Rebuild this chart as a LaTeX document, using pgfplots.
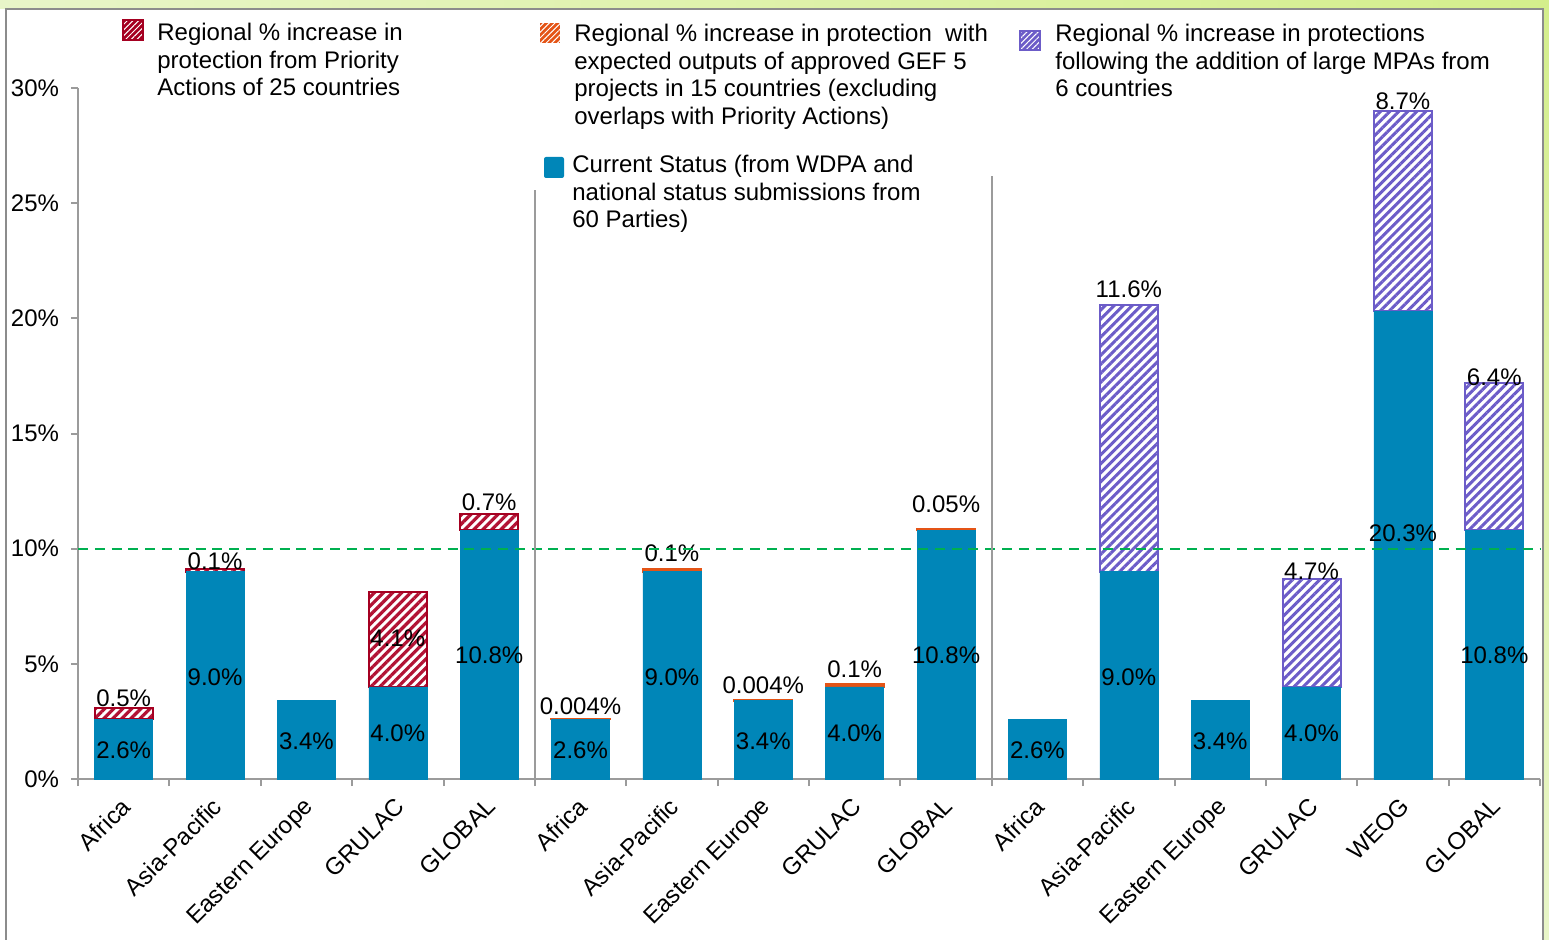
\documentclass[border=0pt]{standalone}
\usepackage{fontspec}
\setmainfont{Liberation Sans}
\usepackage{pgfplots}
\pgfplotsset{compat=1.18}
\usetikzlibrary{patterns.meta}
\definecolor{barblue}{RGB}{0,134,184}
\definecolor{redb}{RGB}{165,0,33}
\definecolor{redh}{RGB}{178,18,52}
\definecolor{orng}{RGB}{228,84,22}
\definecolor{purp}{RGB}{108,92,200}
\definecolor{axgray}{RGB}{155,155,155}
\definecolor{frgray}{RGB}{140,140,140}
\definecolor{dgreen}{RGB}{0,176,80}
\definecolor{bgA}{RGB}{232,245,200}
\definecolor{bgB}{RGB}{212,238,140}
\pgfplotsset{
  common/.style={
    at={(0,0)}, anchor=south west, scale only axis,
    width=731bp, height=345.5bp,
    xmin=-0.5, xmax=15.5, ymin=0, ymax=30,
    ybar stacked, bar width=29bp, clip=false,
  },
  baseblue/.style={fill=barblue, draw=barblue, line width=0.3bp},
  redhatch/.style={draw=redb, line width=1bp,
    pattern={Lines[angle=45,distance=3.2bp,line width=1.6bp]}, pattern color=redh},
  purphatch/.style={draw=purp, line width=1bp,
    pattern={Lines[angle=45,distance=3.2bp,line width=1.5bp]}, pattern color=purp},
  orngbar/.style={fill=orng, draw=orng, line width=1.1bp},
}
\begin{document}
\begin{tikzpicture}[font=\fontsize{12bp}{13.75bp}\selectfont]
\useasboundingbox (-39bp,-80.5bp) rectangle (735.5bp,389.5bp);
\fill[white] (-39bp,-80.5bp) rectangle (735.5bp,389.5bp);
\shade[left color=bgA, right color=bgB] (-39bp,385bp) rectangle (735.5bp,389.5bp);
\shade[top color=bgB, bottom color=bgA] (732.5bp,-80.5bp) rectangle (735.5bp,389.5bp);
\draw[frgray, line width=1bp] (-36bp,-82bp) -- (-36bp,385bp) -- (732.5bp,385bp) -- (732.5bp,-82bp);

% ---- axis 1: frame, ticks, Priority Actions group
\begin{axis}[common,
  axis x line*=bottom, axis y line*=left,
  axis line style={-, draw=axgray, line width=1bp},
  xtick={0,...,15},
  xticklabels={Africa,Asia-Pacific,Eastern Europe,GRULAC,GLOBAL,Africa,Asia-Pacific,Eastern Europe,GRULAC,GLOBAL,Africa,Asia-Pacific,Eastern Europe,GRULAC,WEOG,GLOBAL},
  minor xtick={-0.5,0.5,...,15.5},
  ytick={0,5,...,30},
  yticklabel={\pgfmathprintnumber{\tick}\%},
  /pgf/number format/assume math mode=true,
  tick align=outside,
  major tick length=3.5bp, minor tick length=3.5bp,
  tick style={axgray, line width=1bp},
  major x tick style={draw=none},
  xticklabel shift=3.5bp,
  xticklabel style={xshift=-2bp, rotate=45, anchor=north east, inner sep=1bp, black},
  yticklabel style={xshift=-2.5bp, black},
]
\addplot[baseblue] coordinates {(0,2.6) (1,9.0) (3,4.0) (4,10.8) (2,3.4)};
\addplot[redhatch] coordinates {(0,0.5) (1,0.1) (3,4.1) (4,0.7)};
\end{axis}

% ---- axis 2: GEF 5 group
\begin{axis}[common, hide axis]
\addplot[baseblue] coordinates {(5,2.6) (6,9.0) (7,3.4) (8,4.0) (9,10.8)};
\addplot[orngbar] coordinates {(5,0.004) (6,0.1) (7,0.004) (8,0.1) (9,0.05)};
\end{axis}

% ---- axis 3: large MPAs group
\begin{axis}[common, hide axis]
\addplot[baseblue] coordinates {(11,9.0) (13,4.0) (14,20.3) (15,10.8) (10,2.6) (12,3.4)};
\addplot[purphatch] coordinates {(11,11.6) (13,4.7) (14,8.7) (15,6.4)};
\end{axis}

% ---- axis 4: separators, target line, labels
\begin{axis}[common, hide axis]
\draw[axgray, line width=1bp] (axis cs:4.5,0) -- (axis cs:4.5,25.57);
\draw[axgray, line width=1bp] (axis cs:9.5,0) -- (axis cs:9.5,26.18);
\draw[dgreen, line width=1.15bp, dash pattern=on 5bp off 3.4bp] (axis cs:-0.5,10) -- (axis cs:15.5,10);
% labels group 1
\node at (axis cs:0,1.26) {2.6\%};
\node at (axis cs:0,3.52) {0.5\%};
\node at (axis cs:1,4.43) {9.0\%};
\node at (axis cs:1,9.47) {0.1\%};
\node at (axis cs:2,1.65) {3.4\%};
\node at (axis cs:3,2.0) {4.0\%};
\node at (axis cs:3,6.12) {4.1\%};
\node at (axis cs:4,5.38) {10.8\%};
\node at (axis cs:4,12.03) {0.7\%};
% labels group 2
\node at (axis cs:5,1.26) {2.6\%};
\node at (axis cs:5,3.17) {0.004\%};
\node at (axis cs:6,4.43) {9.0\%};
\node at (axis cs:6,9.81) {0.1\%};
\node at (axis cs:7,1.65) {3.4\%};
\node at (axis cs:7,4.08) {0.004\%};
\node at (axis cs:8,2.0) {4.0\%};
\node at (axis cs:8,4.78) {0.1\%};
\node at (axis cs:9,5.38) {10.8\%};
\node at (axis cs:9,11.94) {0.05\%};
% labels group 3
\node at (axis cs:10,1.26) {2.6\%};
\node at (axis cs:11,4.43) {9.0\%};
\node at (axis cs:11,21.28) {11.6\%};
\node at (axis cs:12,1.65) {3.4\%};
\node at (axis cs:13,2.0) {4.0\%};
\node at (axis cs:13,9.03) {4.7\%};
\node at (axis cs:14,10.68) {20.3\%};
\node at (axis cs:14,29.44) {8.7\%};
\node at (axis cs:15,5.38) {10.8\%};
\node at (axis cs:15,17.46) {6.4\%};
\end{axis}

% ---- legend
\fill[redb, postaction={pattern={Lines[angle=45,distance=2bp,line width=0.5bp]}, pattern color=white}]
  (22.5bp,369.5bp) rectangle (32.5bp,379.5bp);
\draw[redb, line width=0.6bp] (22.5bp,369.5bp) rectangle (32.5bp,379.5bp);
\node[anchor=base west, inner sep=0] at (39.5bp,369bp) {Regional \% increase in};
\node[anchor=base west, inner sep=0] at (39.5bp,355.25bp) {protection from Priority};
\node[anchor=base west, inner sep=0] at (39.5bp,341.5bp) {Actions of 25 countries};

\fill[orng, postaction={pattern={Lines[angle=45,distance=2bp,line width=0.5bp]}, pattern color=white}]
  (231bp,368bp) rectangle (241bp,378bp);
\node[anchor=base west, inner sep=0] at (248bp,368.5bp) {Regional \% increase in protection\ \ with};
\node[anchor=base west, inner sep=0] at (248bp,354.75bp) {expected outputs of approved GEF 5};
\node[anchor=base west, inner sep=0] at (248bp,341bp) {projects in 15 countries (excluding};
\node[anchor=base west, inner sep=0] at (248bp,327.25bp) {overlaps with Priority Actions)};

\fill[barblue, rounded corners=1bp] (233bp,300.5bp) rectangle (243bp,311bp);
\node[anchor=base west, inner sep=0] at (247bp,303bp) {Current Status (from WDPA and};
\node[anchor=base west, inner sep=0] at (247bp,289.25bp) {national status submissions from};
\node[anchor=base west, inner sep=0] at (247bp,275.5bp) {60 Parties)};

\fill[purp, postaction={pattern={Lines[angle=45,distance=2bp,line width=0.5bp]}, pattern color=white}]
  (471bp,364.5bp) rectangle (481bp,374bp);
\draw[purp, line width=0.6bp] (471bp,364.5bp) rectangle (481bp,374bp);
\node[anchor=base west, inner sep=0] at (488.5bp,368.5bp) {Regional \% increase in protections};
\node[anchor=base west, inner sep=0] at (488.5bp,354.75bp) {following the addition of large MPAs from};
\node[anchor=base west, inner sep=0] at (488.5bp,341bp) {6 countries};
\end{tikzpicture}
\end{document}
